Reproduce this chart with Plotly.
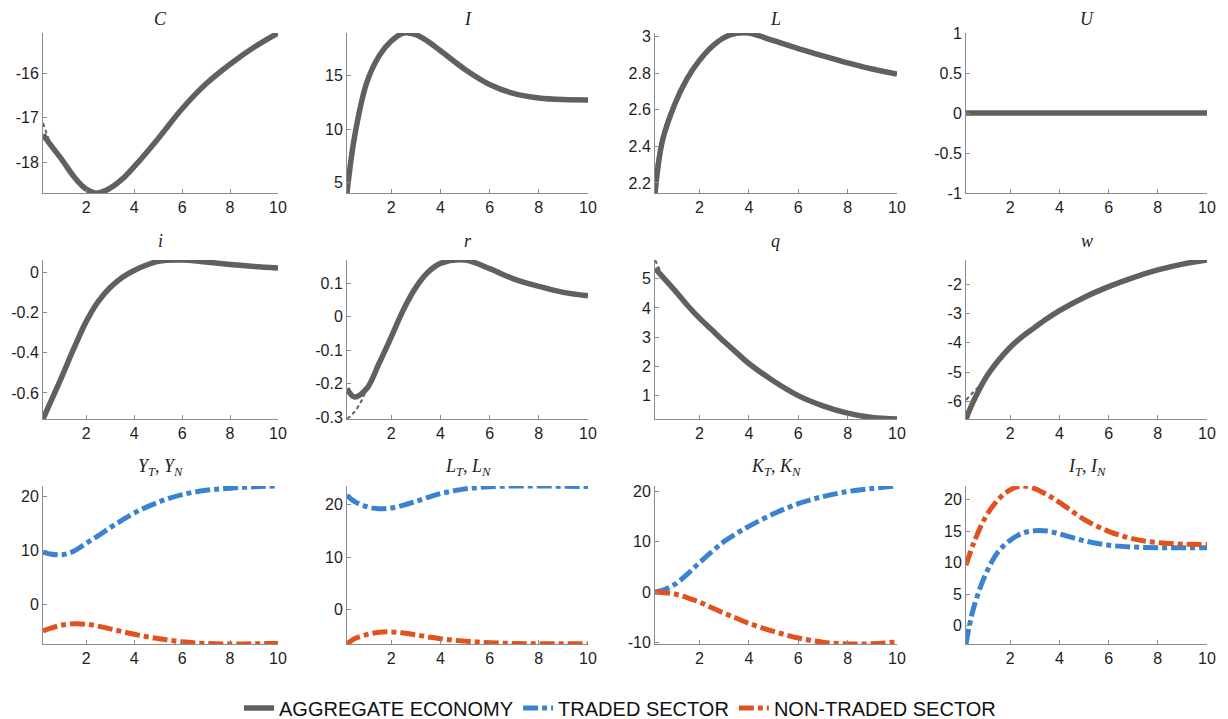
import plotly.graph_objects as go

# ---------------- data ----------------
X = [0.2, 0.5, 1, 1.5, 2, 2.5, 3, 3.5, 4, 5, 6, 7, 8, 9, 10]

C_agg = [-17.38, -17.6, -17.95, -18.33, -18.6, -18.69, -18.58, -18.38, -18.1, -17.47, -16.8, -16.24, -15.8, -15.42, -15.1]
I_agg = [4.05, 9.2, 14.3, 16.8, 18.2, 18.95, 18.8, 18.15, 17.3, 15.56, 14.16, 13.3, 12.9, 12.75, 12.72]
L_agg = [2.145, 2.43, 2.63, 2.77, 2.87, 2.945, 2.995, 3.018, 3.02, 2.978, 2.935, 2.895, 2.857, 2.823, 2.795]
U_agg = [0, 0, 0, 0, 0, 0, 0, 0, 0, 0, 0, 0, 0, 0, 0]
i_agg = [-0.73, -0.65, -0.515, -0.375, -0.245, -0.145, -0.075, -0.025, 0.01, 0.055, 0.062, 0.052, 0.04, 0.03, 0.022]
r_agg = [-0.215, -0.24, -0.215, -0.14, -0.06, 0.022, 0.088, 0.134, 0.16, 0.17, 0.144, 0.113, 0.091, 0.073, 0.063]
q_agg = [5.35, 5.07, 4.6, 4.1, 3.65, 3.25, 2.85, 2.47, 2.1, 1.5, 1.0, 0.65, 0.4, 0.25, 0.2]
w_agg = [-6.6, -6.0, -5.2, -4.62, -4.15, -3.78, -3.47, -3.17, -2.9, -2.45, -2.08, -1.77, -1.51, -1.31, -1.17]

# thin alternative paths visible only near the start
C_alt_x = [0.2, 0.35, 0.5]
C_alt = [-17.12, -17.35, -17.58]
L_alt_x = [0.2, 0.5, 0.8]
L_alt = [2.25, 2.46, 2.58]
r_alt_x = [0.2, 0.5, 0.8, 1.0]
r_alt = [-0.306, -0.285, -0.25, -0.215]
q_alt_x = [0.2, 0.4, 0.6]
q_alt = [5.64, 5.3, 4.98]
w_alt_x = [0.2, 0.5, 0.8, 1.0]
w_alt = [-5.95, -5.68, -5.42, -5.2]

YT = [9.7, 9.35, 9.2, 9.9, 11.3, 12.7, 14.2, 15.6, 16.9, 18.9, 20.3, 21.1, 21.5, 21.75, 21.9]
YN = [-4.9, -4.4, -3.8, -3.55, -3.65, -4.0, -4.5, -5.0, -5.5, -6.3, -6.9, -7.2, -7.3, -7.25, -7.2]
LT = [21.8, 20.6, 19.6, 19.2, 19.35, 19.9, 20.6, 21.4, 22.1, 23.0, 23.4, 23.55, 23.55, 23.5, 23.45]
LN = [-6.6, -5.6, -4.8, -4.35, -4.3, -4.5, -4.85, -5.25, -5.6, -6.05, -6.35, -6.5, -6.55, -6.55, -6.55]
KT = [0, 0.3, 1.5, 3.5, 5.8, 8.0, 10.0, 11.6, 13.0, 15.5, 17.5, 18.9, 19.9, 20.5, 21.0]
KN = [0, -0.1, -0.4, -1.1, -2.0, -3.1, -4.2, -5.2, -6.2, -7.8, -9.1, -9.95, -10.3, -10.25, -9.9]
IT = [-2.9, 2.7, 8.2, 11.7, 13.6, 14.7, 15.1, 15.05, 14.6, 13.5, 12.8, 12.5, 12.4, 12.4, 12.4]
IN = [9.6, 13.0, 17.3, 20.0, 21.6, 22.2, 21.8, 20.8, 19.6, 16.9, 15.0, 13.8, 13.2, 12.95, 12.9]

titles = ["<i>C</i>", "<i>I</i>", "<i>L</i>", "<i>U</i>",
          "<i>i</i>", "<i>r</i>", "<i>q</i>", "<i>w</i>",
          "<i>Y</i><sub><i>T</i></sub><i>, Y</i><sub><i>N</i></sub>",
          "<i>L</i><sub><i>T</i></sub><i>, L</i><sub><i>N</i></sub>",
          "<i>K</i><sub><i>T</i></sub><i>, K</i><sub><i>N</i></sub>",
          "<i>I</i><sub><i>T</i></sub><i>, I</i><sub><i>N</i></sub>"]

x_ticks = [2, 4, 6, 8, 10]
y_ticks = [[-18, -17, -16], [5, 10, 15], [2.2, 2.4, 2.6, 2.8, 3], [-1, -0.5, 0, 0.5, 1],
           [-0.6, -0.4, -0.2, 0], [-0.3, -0.2, -0.1, 0, 0.1], [1, 2, 3, 4, 5], [-6, -5, -4, -3, -2],
           [0, 10, 20], [0, 10, 20], [-10, 0, 10, 20], [0, 5, 10, 15, 20]]

legend_names = ["AGGREGATE ECONOMY", "TRADED SECTOR", "NON-TRADED SECTOR"]

# ---------------- style ----------------
W, H = 1228, 719
OFF = 8  # page body margin of the viewing browser
GRAY = "#606060"
BLUE = "#3b82d0"
RED = "#e0531f"
DASH = "15px,4px,5px,4px"
col_px = [(43 - OFF, 278 - OFF), (347 - OFF, 588 - OFF), (655 - OFF, 897 - OFF), (966 - OFF, 1207 - OFF)]
row_px = [(33 - OFF, 193 - OFF), (260 - OFF, 419 - OFF), (486 - OFF, 644 - OFF)]
title_px = [0, 241 - OFF, 467 - OFF]
title_anchor = ["top", "middle", "middle"]
legend_px = 708 - OFF

fig = go.Figure()

agg = [C_agg, I_agg, L_agg, U_agg, i_agg, r_agg, q_agg, w_agg]
alts = {0: (C_alt_x, C_alt), 2: (L_alt_x, L_alt), 5: (r_alt_x, r_alt),
        6: (q_alt_x, q_alt), 7: (w_alt_x, w_alt)}
pairs = [(YT, YN), (LT, LN), (KT, KN), (IT, IN)]

panel_vals = []
for k in range(12):
    n = k + 1
    xa = "x" if n == 1 else f"x{n}"
    ya = "y" if n == 1 else f"y{n}"
    vals = []
    if k < 8:
        if k in alts:
            ax_, ay_ = alts[k]
            fig.add_trace(go.Scatter(x=ax_, y=ay_, mode="lines", xaxis=xa, yaxis=ya,
                                     line=dict(color=GRAY, width=2, dash="4px,3px", shape="spline"),
                                     showlegend=False, hoverinfo="skip"))
            vals += ay_
        fig.add_trace(go.Scatter(x=X, y=agg[k], mode="lines", xaxis=xa, yaxis=ya,
                                 line=dict(color=GRAY, width=5.5, shape="spline"),
                                 name=legend_names[0], showlegend=(k == 0)))
        vals += agg[k]
    else:
        t, nn = pairs[k - 8]
        fig.add_trace(go.Scatter(x=X, y=t, mode="lines", xaxis=xa, yaxis=ya,
                                 line=dict(color=BLUE, width=5, dash=DASH, shape="spline"),
                                 name=legend_names[1], showlegend=(k == 8)))
        fig.add_trace(go.Scatter(x=X, y=nn, mode="lines", xaxis=xa, yaxis=ya,
                                 line=dict(color=RED, width=5, dash=DASH, shape="spline"),
                                 name=legend_names[2], showlegend=(k == 8)))
        vals += t + nn
    panel_vals.append(vals)

layout = {}
annotations = []
for k in range(12):
    n = k + 1
    r, c = divmod(k, 4)
    x0, x1 = col_px[c]
    y0, y1 = row_px[r]
    xkey = "xaxis" if n == 1 else f"xaxis{n}"
    ykey = "yaxis" if n == 1 else f"yaxis{n}"
    anchor_y = "y" if n == 1 else f"y{n}"
    anchor_x = "x" if n == 1 else f"x{n}"
    if k == 3:
        yr = [-1, 1]
    else:
        yr = [min(panel_vals[k]), max(panel_vals[k])]
    common = dict(showline=True, linecolor="#8c8c8c", linewidth=1, ticks="inside",
                  ticklen=4, tickcolor="#8c8c8c", showgrid=False, zeroline=False,
                  tickfont=dict(family="Liberation Sans, Arial, sans-serif", size=16, color="#1e1e1e"),
                  mirror=False)
    layout[xkey] = dict(domain=[x0 / W, x1 / W], anchor=anchor_y, range=[0.2, 10],
                        tickvals=x_ticks, ticktext=[f"{v:g}" for v in x_ticks], **common)
    layout[ykey] = dict(domain=[1 - y1 / H, 1 - y0 / H], anchor=anchor_x, range=yr,
                        tickvals=y_ticks[k], ticktext=[f"{v:g}" for v in y_ticks[k]], **common)
    annotations.append(dict(text=titles[k], xref="paper", yref="paper",
                            x=(x0 + x1) / 2 / W, y=1 - title_px[r] / H,
                            xanchor="center", yanchor=title_anchor[r], showarrow=False,
                            borderpad=0,
                            font=dict(family="Liberation Serif, Times New Roman, serif", size=18, color="#1e1e1e")))

fig.update_layout(**layout)
fig.update_layout(
    width=W, height=H,
    margin=dict(l=0, r=0, t=0, b=0, autoexpand=False),
    paper_bgcolor="white", plot_bgcolor="white",
    annotations=annotations,
    showlegend=True,
    legend=dict(orientation="h", xref="container", yref="container",
                x=(620 - OFF) / W, xanchor="center", y=1 - legend_px / H, yanchor="middle",
                font=dict(family="Liberation Sans, Arial, sans-serif", size=20, color="#111111"),
                bgcolor="rgba(0,0,0,0)", itemwidth=30, tracegroupgap=0),
)

fig.write_html("out.html")
